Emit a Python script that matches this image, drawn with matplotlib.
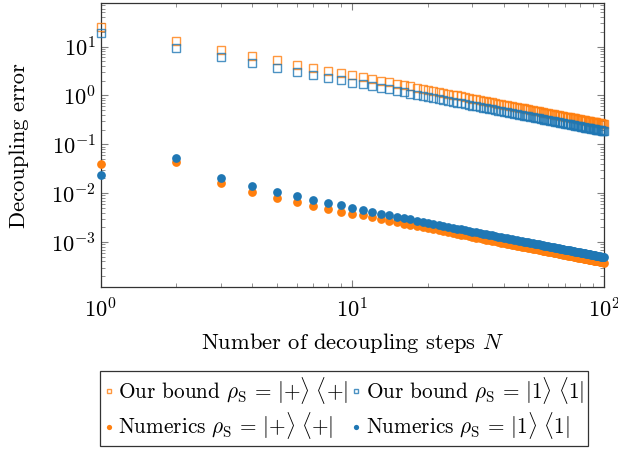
import matplotlib
matplotlib.use("Agg")
import matplotlib.pyplot as plt

plt.rcParams["font.family"] = "serif"
plt.rcParams["font.serif"] = ["cmr10"]
plt.rcParams["mathtext.fontset"] = "cm"
plt.rcParams["axes.formatter.use_mathtext"] = True

steps = list(range(1, 101))

bound_plus = [
    25.7, 13.1, 8.6, 6.5, 5.2, 4.3, 3.7, 3.24, 2.88, 2.6,
    2.36, 2.17, 2.0, 1.86, 1.73, 1.63, 1.53, 1.44, 1.37, 1.3,
    1.24, 1.18, 1.13, 1.08, 1.04, 1.0, 0.963, 0.929, 0.897, 0.867,
    0.839, 0.813, 0.788, 0.765, 0.743, 0.722, 0.703, 0.684, 0.667, 0.65,
    0.634, 0.619, 0.605, 0.591, 0.578, 0.565, 0.553, 0.542, 0.531, 0.52,
    0.51, 0.5, 0.491, 0.481, 0.473, 0.464, 0.456, 0.448, 0.441, 0.433,
    0.426, 0.419, 0.413, 0.406, 0.4, 0.394, 0.388, 0.382, 0.377, 0.371,
    0.366, 0.361, 0.356, 0.351, 0.347, 0.342, 0.338, 0.333, 0.329, 0.325,
    0.321, 0.317, 0.313, 0.31, 0.306, 0.302, 0.299, 0.295, 0.292, 0.289,
    0.286, 0.283, 0.28, 0.277, 0.274, 0.271, 0.268, 0.265, 0.263, 0.26,
]

bound_one = [
    18.8, 9.3, 6.1, 4.6, 3.7, 3.05, 2.62, 2.3, 2.04, 1.84,
    1.69, 1.55, 1.43, 1.33, 1.24, 1.16, 1.09, 1.03, 0.979, 0.93,
    0.886, 0.845, 0.809, 0.775, 0.744, 0.715, 0.689, 0.664, 0.641, 0.62,
    0.6, 0.581, 0.564, 0.547, 0.531, 0.517, 0.503, 0.489, 0.477, 0.465,
    0.454, 0.443, 0.433, 0.423, 0.413, 0.404, 0.396, 0.388, 0.38, 0.372,
    0.365, 0.358, 0.351, 0.344, 0.338, 0.332, 0.326, 0.321, 0.315, 0.31,
    0.305, 0.3, 0.295, 0.291, 0.286, 0.282, 0.278, 0.274, 0.27, 0.266,
    0.262, 0.258, 0.255, 0.251, 0.248, 0.245, 0.242, 0.238, 0.235, 0.233,
    0.23, 0.227, 0.224, 0.221, 0.219, 0.216, 0.214, 0.211, 0.209, 0.207,
    0.204, 0.202, 0.2, 0.198, 0.196, 0.194, 0.192, 0.19, 0.188, 0.186,
]

num_plus = [
    0.039, 0.0432, 0.0161, 0.0107, 0.0080, 0.0065, 0.0055, 0.0047, 0.0042, 0.0038,
    0.0035, 0.0032, 0.00295, 0.00274, 0.00255, 0.00239, 0.00225, 0.00212, 0.00201, 0.00191,
    0.00182, 0.00173, 0.00166, 0.00159, 0.00153, 0.00147, 0.00141, 0.00136, 0.00131, 0.00127,
    0.00123, 0.00119, 0.00115, 0.00112, 0.00109, 0.00106, 0.00103, 0.001, 0.000974, 0.00095,
    0.000927, 0.000905, 0.000884, 0.000864, 0.000844, 0.000826, 0.000809, 0.000792, 0.000776, 0.00076,
    0.000745, 0.000731, 0.000717, 0.000704, 0.000691, 0.000679, 0.000667, 0.000655, 0.000644, 0.000633,
    0.000623, 0.000613, 0.000603, 0.000594, 0.000585, 0.000576, 0.000567, 0.000559, 0.000551, 0.000543,
    0.000535, 0.000528, 0.000521, 0.000514, 0.000507, 0.0005, 0.000494, 0.000487, 0.000481, 0.000475,
    0.000469, 0.000463, 0.000458, 0.000452, 0.000447, 0.000442, 0.000437, 0.000432, 0.000427, 0.000422,
    0.000418, 0.000413, 0.000409, 0.000404, 0.0004, 0.000396, 0.000392, 0.000388, 0.000384, 0.00038,
]

num_one = [
    0.0238, 0.052, 0.0209, 0.0142, 0.0108, 0.0087, 0.0073, 0.0064, 0.0056, 0.005,
    0.00453, 0.00414, 0.00382, 0.00354, 0.0033, 0.00309, 0.00291, 0.00275, 0.0026, 0.00247,
    0.00235, 0.00224, 0.00214, 0.00205, 0.00197, 0.00189, 0.00182, 0.00176, 0.0017, 0.00164,
    0.00159, 0.00154, 0.00149, 0.00145, 0.00141, 0.00137, 0.00133, 0.00129, 0.00126, 0.00123,
    0.0012, 0.00117, 0.00114, 0.00112, 0.00109, 0.00107, 0.00105, 0.00102, 0.001, 0.00098,
    0.00096, 0.000943, 0.000925, 0.000908, 0.000891, 0.000875, 0.00086, 0.000845, 0.000831, 0.000817,
    0.000803, 0.00079, 0.000778, 0.000766, 0.000754, 0.000742, 0.000731, 0.000721, 0.00071, 0.0007,
    0.00069, 0.000681, 0.000671, 0.000662, 0.000653, 0.000645, 0.000636, 0.000628, 0.00062, 0.000613,
    0.000605, 0.000598, 0.00059, 0.000583, 0.000576, 0.00057, 0.000563, 0.000557, 0.000551, 0.000544,
    0.000538, 0.000533, 0.000527, 0.000521, 0.000516, 0.00051, 0.000505, 0.0005, 0.000495, 0.00049,
]

orange = "#ff7f0e"
blue = "#1f77b4"
fs = 16.2
leg_fs = 15.3

fig = plt.figure(figsize=(6.18, 4.49), dpi=100)
ax = fig.add_axes([0.163, 0.3608, 0.8144, 0.6318])

h_bp, = ax.plot(steps, bound_plus, "s", ms=5.4, mfc="none", mec=orange, mew=1.0,
                alpha=0.8, clip_on=False, zorder=3)
h_b1, = ax.plot(steps, bound_one, "s", ms=5.4, mfc="none", mec=blue, mew=1.0,
                alpha=0.8, clip_on=False, zorder=3)
h_np, = ax.plot(steps, num_plus, "o", ms=6.3, mfc=orange, mec=orange, mew=0,
                clip_on=False, zorder=3)
h_n1, = ax.plot(steps, num_one, "o", ms=6.3, mfc=blue, mec=blue, mew=0,
                clip_on=False, zorder=3)

ax.set_xscale("log")
ax.set_yscale("log")
ax.set_xlim(1, 100)
ax.set_ylim(1.2e-4, 77)

ax.tick_params(which="both", direction="in", top=True, right=True,
               color="#808080", labelsize=fs)
ax.tick_params(which="major", length=5, width=0.8)
ax.tick_params(which="minor", length=3, width=0.6)
ax.tick_params(axis="x", pad=7)
for s in ax.spines.values():
    s.set_color("#333333")
    s.set_linewidth(0.9)

ax.set_xlabel(r"Number of decoupling steps $N$", fontsize=fs, labelpad=7)
ax.set_ylabel("Decoupling error", fontsize=fs, labelpad=16)

# braces around + keep mathtext from spacing it as a binary operator
lab_bp = r"Our bound $\rho_\mathrm{S}\,=\,|{+}\rangle\ \langle{+}|$"
lab_b1 = r"Our bound $\rho_\mathrm{S}\,=\,|1\rangle\ \langle1|$"
lab_np = r"Numerics $\rho_\mathrm{S}\,=\,|{+}\rangle\ \langle{+}|$"
lab_n1 = r"Numerics $\rho_\mathrm{S}\,=\,|1\rangle\ \langle1|$"

leg = fig.legend([h_bp, h_np, h_b1, h_n1], [lab_bp, lab_np, lab_b1, lab_n1],
                 ncol=2, loc="center", bbox_to_anchor=(0.557, 0.0905),
                 fontsize=leg_fs, markerscale=0.6, handlelength=0.4,
                 handletextpad=0.25, columnspacing=0.2, borderpad=0.2,
                 borderaxespad=0, labelspacing=0.2, fancybox=False,
                 framealpha=1, edgecolor="#333333")
leg.get_frame().set_linewidth(0.9)

fig.savefig("out.png", dpi=100)
